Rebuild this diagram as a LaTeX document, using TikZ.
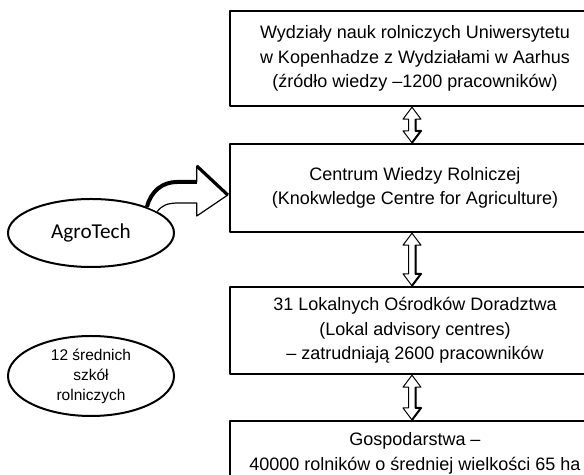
\documentclass[tikz,border=0pt]{standalone}
\usepackage{fontspec}
\setmainfont{Liberation Sans}
\newfontfamily\agrofont{Carlito}
\usetikzlibrary{positioning,calc,shapes.geometric}

\begin{document}
\begin{tikzpicture}[x=0.5pt,y=0.5pt, line join=round,
	box/.style={draw, line width=1.2pt, align=center, minimum width=185pt, inner sep=0pt,
		font=\fontsize{9}{12.25}\selectfont},
	oval/.style={draw, ellipse, line width=1pt, inner sep=0pt, minimum width=83pt, align=center},
	dbl/.style={draw, fill=white, line width=0.5pt},
	fat/.style={draw, fill=white, line width=0.6pt}]
	% ===== ramka =====
	\useasboundingbox (0,0) rectangle (584,475);
	\clip (0,0) rectangle (584,475);
	
	% ===== prostokaty =====
	\node[box, minimum height=47.5pt] (uni) at (415,416.5)
		{Wydziały nauk rolniczych Uniwersytetu\\w Kopenhadze z Wydziałami w Aarhus\\(źródło wiedzy –1200 pracowników)};
	\node[box, minimum height=44pt] (centrum) at (415,287)
		{Centrum Wiedzy Rolniczej\\(Knokwledge Centre for Agriculture)};
	\node[box, minimum height=43.5pt] (lokal) at (415,144.5)
		{31 Lokalnych Ośrodków Doradztwa\\(Lokal advisory centres)\\– zatrudniają 2600 pracowników};
	\node[box, anchor=north, inner ysep=5.75pt] (gosp) at (415,55)
		{Gospodarstwa –\\40000 rolników o średniej wielkości 65 ha};
	
	% ===== elipsy =====
	\node[oval, minimum height=34pt, font=\agrofont\fontsize{10.6}{12}\selectfont] (agro) at (91,242) {AgroTech};
	\node[oval, minimum height=40pt, font=\fontsize{7.75}{10}\selectfont] (szkoly) at (91,99)
		{12 średnich\\szkół\\rolniczych};
	
	% ===== strzalki podwojne =====
	\foreach \a/\b in {uni/centrum, centrum/lokal, lokal/gosp}{
		\draw[dbl] let \p1=($(\a.south)+(-3,0)$), \p2=($(\b.north)+(-3,0)$) in
			(\x1,\y1) -- (\x1+4.5pt,\y1-6pt) -- (\x1+1.75pt,\y1-6pt) -- (\x1+1.75pt,\y2+6pt)
			-- (\x1+4.5pt,\y2+6pt) -- (\x1,\y2) -- (\x1-4.5pt,\y2+6pt) -- (\x1-1.75pt,\y2+6pt)
			-- (\x1-1.75pt,\y1-6pt) -- (\x1-4.5pt,\y1-6pt) -- cycle;
		\draw[line width=1pt] let \p1=($(\a.south)+(-3,0)$), \p2=($(\b.north)+(-3,0)$) in
			(\x1+1.75pt,\y1-6pt) -- (\x1+1.75pt,\y2+6pt) -- (\x1+4.5pt,\y2+6pt) -- (\x1,\y2);
	}
	
	% ===== gruba strzalka AgroTech =====
	\coordinate (tip) at ($(centrum.west)+(-1,-7)$);
	\draw[fat] (agro.25) .. controls +(4,16) and +(-14,0) .. ($(tip)+(-51,13)$) -- ($(tip)+(-31,13)$)
		-- ($(tip)+(-31,29)$) -- (tip) -- ($(tip)+(-31,-21)$) -- ($(tip)+(-31,-8)$)
		-- ($(tip)+(-49,-8)$) .. controls +(-12,0) and +(5,6) .. (agro.18);
	\draw[line width=2pt] (agro.25) .. controls +(4,16) and +(-14,0) .. ($(tip)+(-51,13)$) -- ($(tip)+(-31,13)$);
	\draw[line width=1.6pt] ($(tip)+(-31,29)$) -- (tip);
\end{tikzpicture}
\end{document}
